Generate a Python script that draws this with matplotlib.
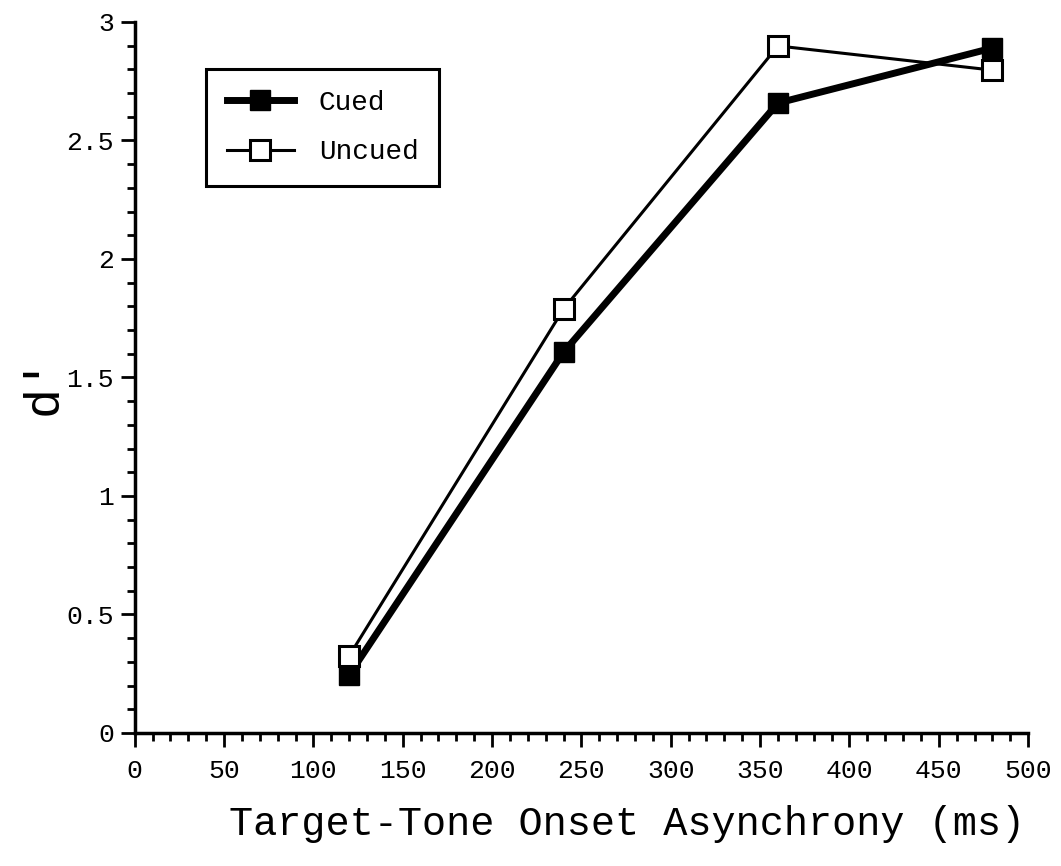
import matplotlib
matplotlib.use("Agg")
import matplotlib.pyplot as plt
from matplotlib.ticker import MultipleLocator

# data
soa = [120, 240, 360, 480]
cued = [0.245, 1.607, 2.658, 2.89]
uncued = [0.325, 1.789, 2.899, 2.797]

plt.rcParams['font.family'] = ['Liberation Mono', 'DejaVu Sans Mono']

fig = plt.figure(figsize=(10.61, 8.66), dpi=100)
ax = fig.add_axes([0.127, 0.1536, 0.842, 0.821])

ax.plot(soa, cued, color='black', lw=5, marker='s', ms=14,
        mfc='black', mec='black', label='Cued', zorder=3)
ax.plot(soa, uncued, color='black', lw=2.2, marker='s', ms=14,
        mfc='white', mec='black', mew=2.2, label='Uncued', zorder=4)

ax.set_xlim(0, 500)
ax.set_ylim(0, 3)
ax.xaxis.set_major_locator(MultipleLocator(50))
ax.xaxis.set_minor_locator(MultipleLocator(10))
ax.yaxis.set_minor_locator(MultipleLocator(0.1))
ax.set_yticks([0, 0.5, 1, 1.5, 2, 2.5, 3])
ax.set_yticklabels(['0', '0.5', '1', '1.5', '2', '2.5', '3'])

for s in ['top', 'right']:
    ax.spines[s].set_visible(False)
for s in ['left', 'bottom']:
    ax.spines[s].set_linewidth(2.5)

ax.tick_params(which='major', direction='out', length=10, width=2, labelsize=19)
ax.tick_params(axis='x', which='major', pad=9)
ax.tick_params(axis='y', which='major', pad=5)
ax.tick_params(which='minor', direction='out', length=6, width=2)

ax.set_xlabel('Target-Tone Onset Asynchrony (ms)', fontsize=29)
ax.xaxis.set_label_coords(0.551, -0.101)
ax.set_ylabel("d'", fontsize=36)
ax.yaxis.set_label_coords(-0.076, 0.49)

leg = ax.legend(loc='upper left', bbox_to_anchor=(0.08, 0.934), fontsize=20,
                fancybox=False, framealpha=1, edgecolor='black',
                handlelength=2.4, borderpad=0.75, labelspacing=0.85,
                handletextpad=0.9, borderaxespad=0)
leg.get_frame().set_linewidth(2.2)

fig.savefig('out.png', dpi=100)
